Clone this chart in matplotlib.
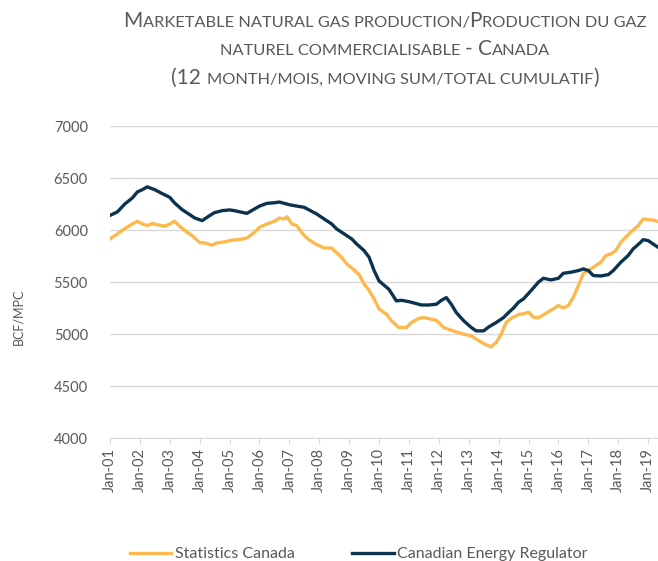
import matplotlib
matplotlib.use('Agg')
import matplotlib.pyplot as plt
import matplotlib.dates as mdates
from matplotlib.offsetbox import TextArea, HPacker, VPacker, AnchoredOffsetbox
import pandas as pd

# Statistics Canada, 12 month moving sum (BCF)
statcan_dates = ['2001-01', '2001-04', '2001-07', '2001-10', '2001-12', '2002-02', '2002-04', '2002-06',
                 '2002-09', '2002-11', '2003-01', '2003-03', '2003-05', '2003-08', '2003-10', '2004-01',
                 '2004-03', '2004-06', '2004-08', '2004-11', '2005-02', '2005-05', '2005-08', '2005-11',
                 '2006-01', '2006-04', '2006-07', '2006-09', '2006-11', '2006-12', '2007-02', '2007-04',
                 '2007-07', '2007-09', '2007-12', '2008-03', '2008-06', '2008-07', '2008-10', '2008-12',
                 '2009-03', '2009-05', '2009-07', '2009-09', '2009-11', '2010-01', '2010-04', '2010-06',
                 '2010-09', '2010-12', '2011-02', '2011-05', '2011-07', '2011-10', '2011-12', '2012-03',
                 '2012-06', '2012-08', '2012-11', '2013-02', '2013-04', '2013-07', '2013-10', '2013-12',
                 '2014-02', '2014-04', '2014-06', '2014-09', '2014-11', '2015-01', '2015-03', '2015-05',
                 '2015-08', '2015-11', '2016-01', '2016-03', '2016-05', '2016-07', '2016-09', '2016-11',
                 '2017-02', '2017-04', '2017-06', '2017-08', '2017-10', '2017-12', '2018-02', '2018-04',
                 '2018-06', '2018-09', '2018-11', '2019-01', '2019-03', '2019-05']
statcan = [5914, 5962, 6014, 6058, 6084, 6058, 6042, 6062,
           6046, 6036, 6058, 6084, 6036, 5978, 5946, 5879,
           5876, 5854, 5876, 5886, 5902, 5908, 5923, 5978,
           6026, 6058, 6083, 6115, 6106, 6128, 6058, 6042,
           5946, 5904, 5859, 5827, 5827, 5802, 5738, 5674,
           5616, 5571, 5482, 5418, 5338, 5240, 5190, 5126,
           5062, 5062, 5110, 5151, 5158, 5142, 5132, 5062,
           5036, 5020, 4998, 4982, 4950, 4908, 4876, 4918,
           4998, 5110, 5150, 5187, 5194, 5210, 5162, 5155,
           5200, 5242, 5274, 5251, 5274, 5354, 5466, 5584,
           5626, 5658, 5690, 5754, 5770, 5802, 5882, 5930,
           5978, 6042, 6106, 6099, 6096, 6083]

# Canadian Energy Regulator, 12 month moving sum (BCF)
cer_dates = ['2001-01', '2001-04', '2001-07', '2001-10', '2001-12', '2002-02', '2002-04', '2002-07',
             '2002-10', '2003-01', '2003-03', '2003-06', '2003-09', '2003-11', '2004-02', '2004-05',
             '2004-07', '2004-10', '2005-01', '2005-03', '2005-06', '2005-08', '2005-11', '2006-01',
             '2006-04', '2006-07', '2006-09', '2006-11', '2007-01', '2007-04', '2007-07', '2007-09',
             '2007-12', '2008-03', '2008-06', '2008-08', '2008-11', '2009-02', '2009-04', '2009-07',
             '2009-09', '2009-11', '2010-01', '2010-05', '2010-08', '2010-10', '2011-01', '2011-04',
             '2011-06', '2011-09', '2011-12', '2012-02', '2012-04', '2012-06', '2012-08', '2012-11',
             '2013-02', '2013-04', '2013-07', '2013-09', '2013-12', '2014-03', '2014-05', '2014-07',
             '2014-09', '2014-11', '2015-02', '2015-05', '2015-07', '2015-10', '2016-01', '2016-03',
             '2016-06', '2016-09', '2016-11', '2017-01', '2017-03', '2017-06', '2017-09', '2017-11',
             '2018-02', '2018-05', '2018-07', '2018-10', '2018-11', '2019-01', '2019-03', '2019-05']
cer = [6140, 6174, 6250, 6308, 6366, 6388, 6415, 6388,
       6350, 6314, 6260, 6196, 6148, 6116, 6090, 6138,
       6167, 6186, 6193, 6186, 6170, 6160, 6202, 6230,
       6256, 6262, 6269, 6256, 6243, 6230, 6218, 6192,
       6154, 6106, 6058, 6010, 5962, 5914, 5866, 5802,
       5738, 5610, 5510, 5430, 5318, 5324, 5311, 5292,
       5279, 5279, 5286, 5324, 5350, 5286, 5206, 5126,
       5062, 5030, 5030, 5068, 5110, 5158, 5206, 5250,
       5306, 5338, 5418, 5498, 5536, 5520, 5536, 5584,
       5594, 5610, 5626, 5610, 5562, 5558, 5571, 5610,
       5690, 5754, 5818, 5882, 5907, 5898, 5866, 5834]

series_names = ['Statistics Canada', 'Canadian Energy Regulator']
yticks = [4000, 4500, 5000, 5500, 6000, 6500, 7000]

grey = '#595959'
plt.rcParams['font.family'] = ['Lato', 'DejaVu Sans']

fig = plt.figure(figsize=(6.58, 5.61), dpi=100)
ax = fig.add_axes([110/658, 123/561, 548/658, 312/561])

ax.plot(pd.to_datetime(statcan_dates), statcan, color='#FDB94E', lw=2.4, label=series_names[0])
ax.plot(pd.to_datetime(cer_dates), cer, color='#0B3350', lw=2.4, label=series_names[1])

ax.set_ylim(4000, 7000)
ax.set_yticks(yticks)
ax.set_xlim(pd.Timestamp('2001-01-01'), pd.Timestamp('2019-05-01'))
ax.xaxis.set_major_locator(mdates.YearLocator())
ax.xaxis.set_major_formatter(mdates.DateFormatter('Jan-%y'))

ax.grid(axis='y', color='#d9d9d9', lw=1)
ax.set_axisbelow(True)
for s in ['top', 'right', 'left']:
    ax.spines[s].set_visible(False)
ax.spines['bottom'].set_color('#d9d9d9')
ax.tick_params(axis='y', length=0, pad=16, labelsize=10.5, labelcolor=grey)
ax.tick_params(axis='x', length=4, color='#d9d9d9', labelsize=10.5, labelcolor=grey,
               labelrotation=90, pad=3)
ax.set_ylabel('BCF/MPC', color=grey, fontsize=9)
ax.yaxis.set_label_coords(-0.157, 0.39)

# small caps title built from text pieces
big, small = 15, 11.8
lines = [[('M', big), ('ARKETABLE NATURAL GAS PRODUCTION/', small), ('P', big), ('RODUCTION DU GAZ', small)],
         [('NATUREL COMMERCIALISABLE ', small), ('- C', big), ('ANADA', small)],
         [('(12 ', big), ('MONTH/MOIS, MOVING SUM/TOTAL CUMULATIF', small), (')', big)]]
rows = []
for ln in lines:
    parts = [TextArea(t, textprops=dict(fontsize=sz, color=grey)) for t, sz in ln]
    rows.append(HPacker(children=parts, align='baseline', pad=0, sep=0))
title = VPacker(children=rows, align='center', pad=0, sep=6)
box = AnchoredOffsetbox(loc='upper center', child=title, frameon=False,
                        bbox_to_anchor=(0.585, 0.99), bbox_transform=fig.transFigure, borderpad=0)
fig.add_artist(box)

fig.legend(loc='center', bbox_to_anchor=(0.545, 0.012), ncol=2, frameon=False,
           fontsize=11.5, labelcolor=grey, handlelength=2.6, handletextpad=0.2, columnspacing=3.6)

fig.savefig('out.png', dpi=100)
